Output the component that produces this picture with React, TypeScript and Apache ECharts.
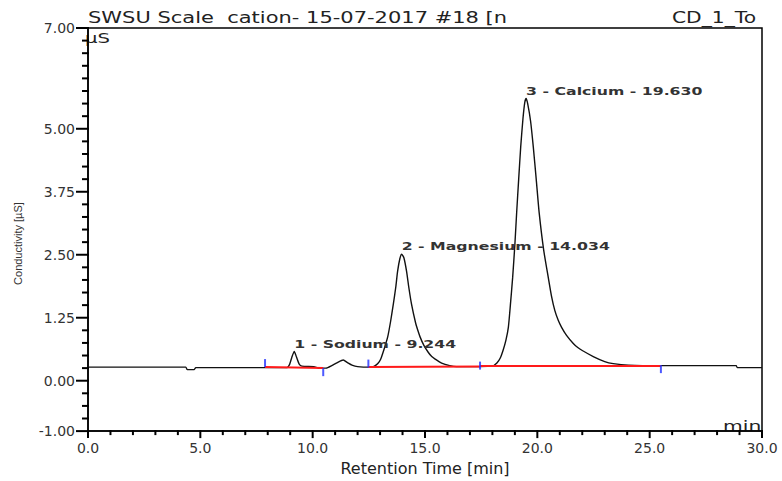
import React, { useEffect, useRef } from "react";
import * as echarts from "echarts";

// Chromatogram trace (retention time in min, conductivity in µS)
const timeMin = [
  0, 4.35, 4.42, 4.72, 4.8, 8.85, 8.97, 9.07, 9.18, 9.28, 9.4, 9.52, 10.05, 10.3, 10.6, 10.85,
  11.1, 11.36, 11.55, 11.75, 12.0, 12.6, 12.75, 12.9, 13.02, 13.16, 13.34, 13.47, 13.59, 13.7,
  13.78, 13.88, 13.96, 14.06, 14.18, 14.28, 14.4, 14.58, 14.68, 14.78, 14.95, 15.15, 15.3, 15.45,
  15.74, 16.1, 16.4, 18.0, 18.2, 18.35, 18.48, 18.6, 18.71, 18.8, 18.9, 19.0, 19.08, 19.17, 19.26,
  19.36, 19.44, 19.5, 19.57, 19.7, 19.82, 19.95, 20.08, 20.28, 20.49, 20.63, 20.78, 20.93, 21.08,
  21.3, 21.6, 21.8, 22.0, 22.49, 23.0, 23.38, 24.05, 25.5, 28.85, 28.9, 30,
];
const conductivity = [
  0.27, 0.27, 0.22, 0.22, 0.26, 0.26, 0.32, 0.46, 0.58, 0.47, 0.33, 0.29, 0.28, 0.25, 0.25, 0.3,
  0.36, 0.41, 0.36, 0.31, 0.28, 0.27, 0.29, 0.34, 0.42, 0.6, 0.87, 1.18, 1.52, 1.86,
  2.17, 2.42, 2.51, 2.44, 2.17, 1.85, 1.52, 1.15, 1.0, 0.87, 0.7, 0.56, 0.48, 0.43,
  0.35, 0.3, 0.28, 0.29, 0.35, 0.45, 0.61, 0.8, 1.06, 1.5, 2.04, 2.7, 3.34, 4.0, 4.64,
  5.2, 5.52, 5.6, 5.5, 5.15, 4.64, 4.0, 3.34, 2.6, 2.04, 1.68, 1.39, 1.2, 1.06,
  0.9, 0.74, 0.66, 0.6, 0.48, 0.38, 0.34, 0.31, 0.3, 0.3, 0.26, 0.26,
];

// Integration baselines (red)
const baseStartT = [7.88, 12.48, 17.45];
const baseEndT = [10.47, 17.45, 25.5];
const baseStartV = [0.27, 0.27, 0.29];
const baseEndV = [0.25, 0.28, 0.29];

// Peak delimiters (blue)
const markerT = [7.88, 10.47, 12.48, 17.45, 25.5];
const markerV = [0.35, 0.17, 0.34, 0.3, 0.23];

// Peaks
const peakNo = [1, 2, 3];
const peakIon = ["Sodium", "Magnesium", "Calcium"];
const peakRT = ["9.244", "14.034", "19.630"];
const apexT = [9.18, 13.96, 19.5];
const apexV = [0.58, 2.51, 5.6];

// Axis ticks
const yLabelValues = [-1, 0, 1.25, 2.5, 3.75, 5, 7];
const yTickValues = [
  -1, -0.75, -0.5, -0.25, 0, 0.25, 0.5, 0.75, 1, 1.25, 1.5, 1.75, 2, 2.25, 2.5, 2.75, 3, 3.25,
  3.5, 3.75, 4, 4.25, 4.5, 4.75, 5, 5.25, 5.5, 5.75, 6, 6.25, 6.5, 6.75, 7,
];
const xLabelValues = [0, 5, 10, 15, 20, 25, 30];
const xTickValues = [
  0, 1, 2, 3, 4, 5, 6, 7, 8, 9, 10, 11, 12, 13, 14, 15, 16, 17, 18, 19, 20, 21, 22, 23, 24, 25,
  26, 27, 28, 29, 30,
];

const FONT = "DejaVu Sans";

export default function App() {
  const ref = useRef<HTMLDivElement>(null);
  useEffect(() => {
    const chart = echarts.init(ref.current!, null, { renderer: "svg" });
    const peakLabels = peakNo.map((n, i) => `${n} - ${peakIon[i]} - ${peakRT[i]}`);
    const series: any[] = [
      {
        type: "line",
        name: "CD_1",
        data: timeMin.map((t, i) => [t, conductivity[i]]),
        showSymbol: false,
        smooth: 0.2,
        lineStyle: { color: "#111", width: 1.4 },
        z: 2,
      },
    ];
    baseStartT.forEach((t, i) => {
      series.push({
        type: "line",
        data: [
          [t, baseStartV[i]],
          [baseEndT[i], baseEndV[i]],
        ],
        showSymbol: false,
        lineStyle: { color: "#ff1a1a", width: 2 },
        z: 3,
      });
    });
    series.push({
      type: "scatter",
      data: markerT.map((t, i) => [t, markerV[i]]),
      symbol: "rect",
      symbolSize: [2, 8],
      itemStyle: { color: "#2030ff" },
      z: 4,
    });
    series.push({
      type: "custom",
      clip: false,
      data: apexT.map((t, i) => [t, apexV[i]]),
      renderItem: (params: any, api: any) => {
        const p = api.coord([api.value(0), api.value(1)]);
        return {
          type: "text",
          x: p[0],
          y: p[1] - 8,
          scaleX: 1.43,
          style: {
            text: peakLabels[params.dataIndex],
            fontSize: 11,
            fontWeight: "bold",
            fontFamily: FONT,
            fill: "#333",
            align: "left",
            verticalAlign: "middle",
          },
        };
      },
      z: 5,
    });
    // y-axis ticks (major at labelled values, minor every 0.25)
    series.push({
      type: "custom",
      clip: false,
      silent: true,
      data: yTickValues.map((v) => [0, v]),
      renderItem: (params: any, api: any) => {
        const v = api.value(1);
        const p = api.coord([0, v]);
        const len = yLabelValues.includes(v) ? 12 : 6;
        return {
          type: "rect",
          shape: { x: p[0] - len, y: p[1] - 1, width: len + 1, height: 2 },
          style: { fill: "#000" },
        };
      },
      z: 6,
    });
    // x-axis ticks (major every 5 min, minor every 1 min)
    series.push({
      type: "custom",
      clip: false,
      silent: true,
      data: xTickValues.map((v) => [v, -1]),
      renderItem: (params: any, api: any) => {
        const v = api.value(0);
        const p = api.coord([v, -1]);
        const len = xLabelValues.includes(v) ? 7 : 4;
        return {
          type: "rect",
          shape: { x: p[0] - 1, y: p[1] - 1, width: 2, height: len + 1 },
          style: { fill: "#000" },
        };
      },
      z: 6,
    });

    chart.setOption({
      animation: false,
      backgroundColor: "#fff",
      grid: {
        left: 88,
        right: 20,
        top: 28,
        bottom: 45,
        show: true,
        borderColor: "#000",
        borderWidth: 1.5,
        backgroundColor: "transparent",
      },
      xAxis: {
        type: "value",
        min: 0,
        max: 30,
        interval: 5,
        axisLine: { onZero: false, lineStyle: { color: "#000", width: 1.5 } },
        axisTick: { show: false },
        axisLabel: {
          formatter: (v: number) => v.toFixed(1),
          fontSize: 14,
          fontFamily: FONT,
          color: "#333",
          margin: 10,
        },
        splitLine: { show: false },
        name: "Retention Time [min]",
        nameLocation: "middle",
        nameGap: 26,
        nameTextStyle: { fontSize: 16, fontFamily: FONT, color: "#222" },
      },
      yAxis: {
        type: "value",
        min: -1,
        max: 7,
        interval: 0.25,
        axisLine: { onZero: false, lineStyle: { color: "#000", width: 1.5 } },
        axisTick: { show: false },
        axisLabel: {
          customValues: yLabelValues,
          formatter: (v: number) => v.toFixed(2),
          fontSize: 14,
          fontFamily: FONT,
          color: "#333",
          margin: 13,
        },
        splitLine: { show: false },
        name: "Conductivity [µS]",
        nameLocation: "middle",
        nameRotate: 90,
        nameGap: 65,
        nameTextStyle: {
          fontSize: 11,
          fontFamily: "Liberation Sans",
          color: "#333",
          padding: [0, 28, 0, 0],
        },
      },
      graphic: [
        {
          type: "text",
          left: 88,
          top: 10,
          scaleX: 1.4,
          style: {
            text: "SWSU Scale  cation- 15-07-2017 #18 [n",
            fontSize: 15,
            fontFamily: FONT,
            fill: "#222",
          },
        },
        {
          type: "text",
          left: 672,
          top: 10,
          scaleX: 1.35,
          style: { text: "CD_1_To", fontSize: 15, fontFamily: FONT, fill: "#222" },
        },
        {
          type: "rect",
          shape: { x: 759, y: 0, width: 23, height: 27 },
          style: { fill: "#fff" },
          z: 10,
        },
        {
          type: "text",
          x: 85,
          y: 31,
          scaleX: 1.4,
          style: { text: "µS", fontSize: 14, fontFamily: FONT, fill: "#222" },
        },
        {
          type: "text",
          x: 723,
          y: 419,
          scaleX: 1.45,
          style: { text: "min", fontSize: 14, fontFamily: FONT, fill: "#222" },
        },
      ],
      series,
    });
    return () => chart.dispose();
  }, []);
  return (
    <div
      ref={ref}
      style={{ position: "fixed", left: 0, top: 0, width: 782, height: 481, background: "#fff" }}
    />
  );
}
